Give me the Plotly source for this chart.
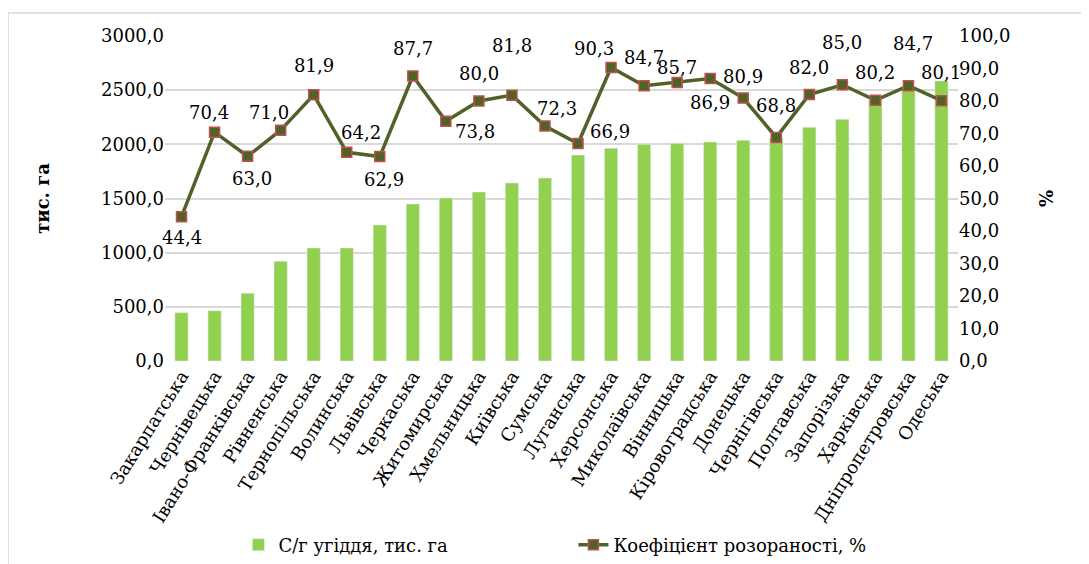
import plotly.graph_objects as go

regions = ["Закарпатська", "Чернівецька", "Івано-Франківська", "Рівненська", "Тернопільська",
           "Волинська", "Львівська", "Черкаська", "Житомирська", "Хмельницька", "Київська",
           "Сумська", "Луганська", "Херсонська", "Миколаївська", "Вінницька", "Кіровоградська",
           "Донецька", "Чернігівська", "Полтавська", "Запорізька", "Харківська",
           "Дніпропетровська", "Одеська"]
land = [446, 464, 625, 920, 1043, 1043, 1255, 1449, 1505, 1560, 1643, 1689, 1901, 1963,
        2000, 2009, 2021, 2037, 2060, 2157, 2231, 2410, 2520, 2585]
ratio = [44.4, 70.4, 63.0, 71.0, 81.9, 64.2, 62.9, 87.7, 73.8, 80.0, 81.8, 72.3, 66.9, 90.3,
         84.7, 85.7, 86.9, 80.9, 68.8, 82.0, 85.0, 80.2, 84.7, 80.1]

# label offsets in px (style only): dx right, dy up
label_dx = [0, -6, 4, -12, 0, 14, 4, 0, 29, 0, 0, 12, 32, -17, 0, 0, 0, 0, 0, 0, 0, 0, 5, 0]
label_dy = [-21, 20, -22, 18, 29, 20, -23, 27, -10, 28, 50, 18, 12, 19, 28, 15, -24, 22, 32,
            27, 42, 28, 42, 28]

FONT = "DejaVu Serif"
FS = 18

fig = go.Figure()
fig.add_trace(go.Bar(
    x=regions, y=land, name="С/г угіддя, тис. га",
    marker=dict(color="#92D050"), yaxis="y"))
fig.add_trace(go.Scatter(
    x=regions, y=ratio, name="Коефіцієнт розораності, %", yaxis="y2",
    mode="lines+markers",
    line=dict(color="#4F6228", width=3.5),
    marker=dict(symbol="square", size=10, color="#4F6228",
                line=dict(color="#C0504D", width=1.5)),
    cliponaxis=False))

for r, v, dx, dy in zip(regions, ratio, label_dx, label_dy):
    fig.add_annotation(x=r, y=v, xref="x", yref="y2", text=f"{v:.1f}".replace(".", ","),
                       showarrow=False, xshift=dx, yshift=dy,
                       font=dict(family=FONT, size=FS, color="#000000"))

W, H = 1081, 556
fig.update_layout(
    width=W, height=H,
    margin=dict(l=157, r=131, t=28, b=203, autoexpand=False),
    paper_bgcolor="white", plot_bgcolor="white",
    font=dict(family=FONT, size=FS, color="#000000"),
    separators=", ",
    bargap=0.6,
    showlegend=True,
    legend=dict(orientation="h", x=0.515, xanchor="center", y=-0.566, yanchor="middle",
                font=dict(family=FONT, size=FS), entrywidth=290),
    xaxis=dict(tickangle=-58, showgrid=False, showline=False, ticks="", automargin=False,
               range=[-0.5, len(regions) - 0.5],
               tickfont=dict(family=FONT, size=FS)),
    yaxis=dict(range=[0, 3000], dtick=500, tickformat=".1f", automargin=False,
               gridcolor="#D9D9D9", gridwidth=1.5, zeroline=False, showline=False,
               title=dict(text="<b>тис. га</b>", font=dict(family=FONT, size=FS), standoff=46),
               tickfont=dict(family=FONT, size=FS)),
    yaxis2=dict(range=[0, 100], dtick=10, tickformat=".1f", overlaying="y", side="right",
                showgrid=False, zeroline=False, showline=False, automargin=False,
                title=dict(text="<b>%</b>", font=dict(family=FONT, size=FS), standoff=30),
                tickfont=dict(family=FONT, size=FS)),
    shapes=[dict(type="rect", xref="paper", yref="paper",
                 x0=-157/793, x1=(W - 157 + 10)/793, y0=-0.7, y1=(353-5)/325,
                 line=dict(color="#D9D9D9", width=1.5), fillcolor="rgba(0,0,0,0)", layer="below")],
)

fig.write_html("out.html")
